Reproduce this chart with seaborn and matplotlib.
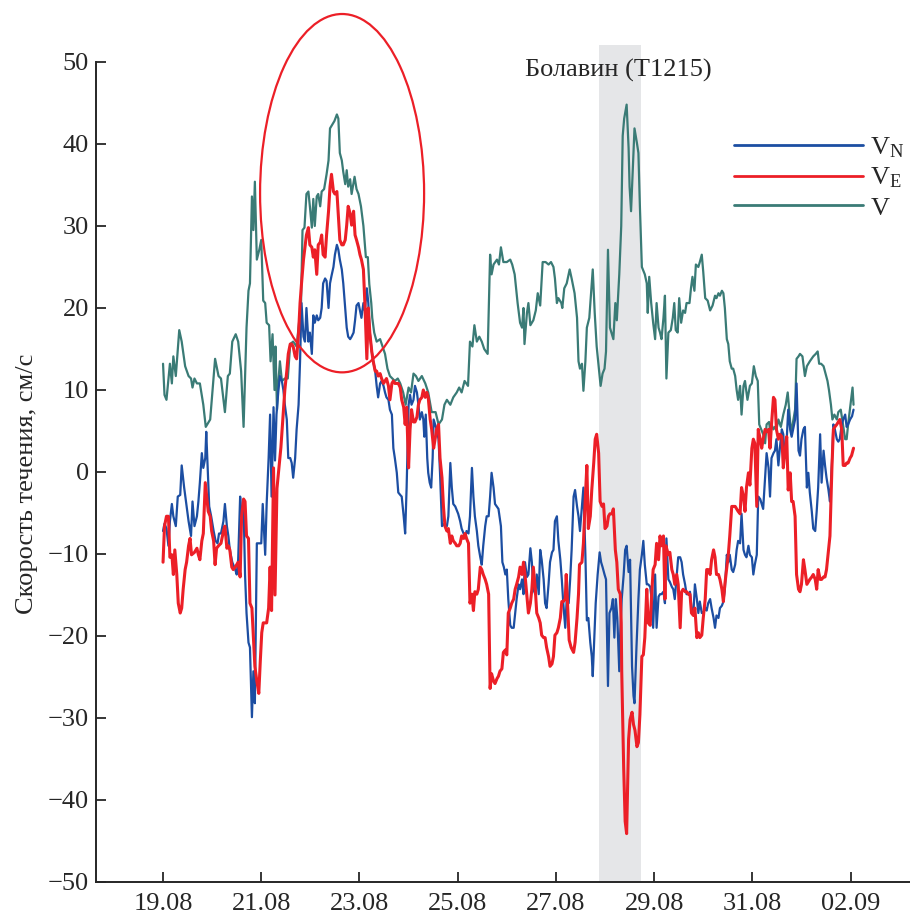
import numpy as np
import pandas as pd
import seaborn as sns
import matplotlib
matplotlib.use("Agg")
import matplotlib.pyplot as plt
from matplotlib.patches import Ellipse

# ---------------- data (days since 19.08, cm/s) ----------------
t_V = [0.00,0.03,0.07,0.14,0.18,0.21,0.26,0.33,0.38,0.45,0.52,0.57,0.60,0.64,0.69,0.75,0.82,0.87,0.96,1.06,
       1.13,1.18,1.26,1.32,1.36,1.41,1.48,1.53,1.59,1.64,1.70,1.74,1.77,1.81,1.84,1.87,1.91,1.96,2.00,2.04,
       2.08,2.11,2.16,2.19,2.23,2.27,2.29,2.32,2.35,2.38,2.42,2.48,2.54,2.59,2.65,2.72,2.77,2.81,2.84,2.88,
       2.92,2.96,2.99,3.03,3.06,3.09,3.13,3.16,3.20,3.23,3.28,3.33,3.37,3.40,3.43,3.49,3.54,3.57,3.60,3.64,
       3.67,3.71,3.74,3.77,3.81,3.84,3.90,3.94,3.98,4.03,4.08,4.13,4.17,4.20,4.24,4.26,4.30,4.35,4.42,4.47,
       4.52,4.57,4.62,4.67,4.72,4.78,4.83,4.89,4.94,5.00,5.05,5.10,5.15,5.20,5.27,5.34,5.40,5.47,5.55,5.61,
       5.68,5.73,5.78,5.85,5.91,5.98,6.03,6.08,6.14,6.21,6.25,6.30,6.34,6.39,6.44,6.49,6.54,6.61,6.66,6.69,
       6.73,6.80,6.84,6.88,6.93,7.00,7.07,7.11,7.16,7.22,7.27,7.31,7.34,7.36,7.41,7.44,7.48,7.54,7.59,7.63,
       7.68,7.73,7.79,7.85,7.90,7.95,7.98,8.02,8.05,8.11,8.13,8.17,8.22,8.28,8.32,8.38,8.43,8.46,8.49,8.53,
       8.56,8.60,8.63,8.68,8.75,8.79,8.83,8.88,8.91,8.95,8.99,9.02,9.06,9.10,9.17,9.21,9.24,9.29,9.33,9.36,
       9.39,9.44,9.48,9.50,9.53,9.56,9.60,9.65,9.68,9.71,9.75,9.81,9.85,9.87,9.90,9.94,9.98,10.02,10.05,10.09,
       10.12,10.15,10.19,10.22,10.25,10.29,10.34,10.38,10.41,10.44,10.48,10.51,10.55,10.59,10.63,10.66,10.72,10.75,10.78,10.82,
       10.85,10.90,10.93,10.97,11.00,11.04,11.09,11.14,11.19,11.24,11.27,11.31,11.34,11.38,11.41,11.44,11.48,11.51,11.54,11.58,
       11.61,11.65,11.68,11.71,11.75,11.78,11.82,11.85,11.90,11.95,11.99,12.03,12.07,12.11,12.14,12.18,12.22,12.26,12.29,12.34,
       12.37,12.39,12.43,12.46,12.49,12.53,12.58,12.63,12.68,12.72,12.75,12.79,12.82,12.87,12.90,12.94,12.97,13.02,13.07,13.11,
       13.17,13.24,13.29,13.33,13.36,13.40,13.45,13.49,13.53,13.56,13.60,13.63,13.67,13.72,13.75,13.80,13.83,13.89,13.92,13.95,
       14.01,14.04,14.06]
V = [13.2,9.4,8.8,13.2,10.8,14.1,11.7,17.3,15.9,12.9,11.7,11.4,10.3,11.4,10.8,10.8,8.2,5.5,6.4,13.8,
     11.7,11.4,7.3,11.7,12.0,15.9,16.8,15.9,12.3,5.5,17.6,22.1,23.0,33.6,29.5,35.4,25.9,27.1,28.3,20.9,
     20.6,18.2,17.9,13.5,16.8,10.0,15.3,7.6,11.1,13.5,11.1,11.4,11.4,15.6,15.9,15.3,18.2,20.6,29.5,29.8,
     33.9,34.2,32.4,29.8,33.3,30.0,33.6,33.9,32.4,34.2,34.5,36.3,38.0,41.9,42.2,42.8,43.6,43.1,38.9,38.0,
     36.6,35.1,36.8,34.8,35.7,33.9,36.0,34.5,33.9,32.4,30.0,26.2,26.2,22.9,20.6,18.8,17.0,15.9,16.2,15.3,
     14.4,12.6,11.7,11.4,11.1,11.4,10.8,9.7,8.2,10.3,9.7,12.0,11.7,11.1,11.7,10.8,9.7,7.3,7.3,5.8,
     6.4,8.2,8.8,8.2,9.1,9.7,10.3,9.7,11.1,10.5,15.9,15.3,17.9,15.9,16.5,15.9,15.0,14.4,26.5,24.1,
     25.3,25.9,25.3,27.4,25.6,25.6,25.9,25.3,24.1,20.6,18.2,17.6,20.0,15.6,19.4,20.6,17.9,18.5,19.7,21.8,
     20.3,25.6,25.6,25.3,25.6,25.0,23.6,20.6,21.2,20.6,20.0,22.4,23.0,24.7,23.6,21.8,18.8,13.5,12.6,13.2,
     9.9,13.5,17.6,18.8,24.7,19.4,15.3,12.3,10.5,12.0,12.6,14.7,27.1,17.6,16.2,20.6,18.5,24.1,30.0,41.0,
     43.1,44.8,39.5,34.8,31.8,36.0,41.9,40.1,38.9,32.4,25.0,24.1,23.0,19.4,23.8,20.6,18.2,16.2,20.6,17.6,
     17.0,16.2,18.8,21.5,11.4,17.0,17.3,18.8,20.6,17.3,17.0,21.2,18.2,19.7,19.4,20.6,20.6,22.4,23.8,22.1,
     25.3,25.0,25.6,26.5,24.4,21.2,20.9,19.7,20.3,21.5,21.2,21.8,21.5,22.1,21.8,20.0,16.2,15.6,13.5,12.6,
     12.6,11.7,10.0,8.8,10.5,7.0,10.5,11.1,8.8,10.5,10.8,12.9,11.7,11.1,5.8,5.2,4.6,3.5,5.8,6.1,
     4.6,5.8,5.2,5.5,5.2,6.4,5.5,7.0,8.2,9.7,7.6,4.6,5.8,7.6,13.8,14.1,14.4,14.1,11.7,12.9,
     13.5,14.1,14.4,14.7,13.2,13.2,12.9,12.0,11.1,10.0,8.2,6.4,7.0,6.4,7.3,7.6,6.4,4.0,4.0,5.8,
     8.8,10.3,8.2]

t_VN = [0.00,0.03,0.07,0.11,0.14,0.18,0.21,0.26,0.30,0.35,0.38,0.43,0.48,0.52,0.57,0.60,0.64,0.69,0.72,0.75,
        0.79,0.82,0.86,0.88,0.91,0.94,0.98,1.03,1.07,1.11,1.14,1.18,1.23,1.26,1.30,1.33,1.36,1.41,1.47,1.50,
        1.53,1.57,1.60,1.64,1.67,1.70,1.74,1.77,1.81,1.84,1.87,1.91,1.96,2.00,2.03,2.08,2.11,2.15,2.18,2.21,
        2.25,2.28,2.31,2.35,2.38,2.42,2.45,2.48,2.52,2.55,2.59,2.62,2.65,2.69,2.72,2.76,2.79,2.82,2.86,2.89,
        2.92,2.96,2.99,3.03,3.06,3.09,3.13,3.16,3.20,3.23,3.26,3.30,3.33,3.37,3.40,3.43,3.47,3.50,3.54,3.57,
        3.60,3.64,3.67,3.71,3.74,3.77,3.81,3.84,3.88,3.91,3.94,3.98,4.01,4.04,4.08,4.11,4.15,4.18,4.21,4.25,
        4.28,4.32,4.35,4.38,4.42,4.45,4.49,4.52,4.55,4.59,4.62,4.66,4.69,4.72,4.76,4.79,4.83,4.86,4.90,4.93,
        4.96,5.00,5.03,5.06,5.10,5.13,5.17,5.20,5.23,5.27,5.30,5.32,5.35,5.38,5.40,5.43,5.46,5.49,5.51,5.54,
        5.57,5.61,5.64,5.68,5.73,5.78,5.81,5.85,5.88,5.91,5.95,6.01,6.05,6.08,6.12,6.15,6.18,6.22,6.25,6.29,
        6.32,6.35,6.39,6.42,6.46,6.49,6.52,6.56,6.59,6.63,6.66,6.69,6.73,6.76,6.83,6.88,6.91,6.94,6.97,7.00,
        7.03,7.07,7.10,7.14,7.20,7.24,7.27,7.31,7.34,7.37,7.41,7.44,7.48,7.51,7.54,7.58,7.61,7.65,7.68,7.71,
        7.75,7.78,7.81,7.85,7.88,7.92,7.95,7.98,8.02,8.05,8.09,8.12,8.15,8.19,8.22,8.26,8.29,8.32,8.36,8.39,
        8.43,8.46,8.49,8.53,8.56,8.60,8.63,8.66,8.70,8.73,8.75,8.79,8.81,8.85,8.89,8.92,8.95,8.99,9.02,9.06,
        9.09,9.13,9.16,9.19,9.22,9.25,9.29,9.31,9.34,9.38,9.41,9.44,9.48,9.51,9.55,9.58,9.60,9.64,9.68,9.71,
        9.75,9.78,9.81,9.85,9.88,9.92,9.95,9.98,10.02,10.05,10.09,10.12,10.15,10.19,10.22,10.25,10.29,10.32,10.36,10.39,
        10.42,10.46,10.49,10.53,10.56,10.59,10.63,10.66,10.70,10.73,10.76,10.80,10.83,10.87,10.90,10.93,10.97,11.00,11.04,11.07,
        11.10,11.14,11.17,11.21,11.24,11.27,11.31,11.34,11.38,11.41,11.44,11.48,11.51,11.54,11.58,11.61,11.65,11.68,11.71,11.75,
        11.78,11.82,11.85,11.88,11.92,11.95,11.99,12.02,12.05,12.09,12.12,12.16,12.19,12.22,12.26,12.29,12.33,12.36,12.39,12.43,
        12.46,12.49,12.53,12.56,12.60,12.63,12.66,12.70,12.73,12.77,12.80,12.83,12.87,12.90,12.94,12.97,13.00,13.04,13.07,13.11,
        13.14,13.17,13.21,13.24,13.28,13.31,13.34,13.38,13.41,13.45,13.48,13.51,13.55,13.58,13.62,13.65,13.68,13.72,13.75,13.78,
        13.82,13.85,13.89,13.92,13.95,13.99,14.03,14.06]
VN = [-7.2,-6.3,-6.9,-9.0,-6.0,-3.9,-5.4,-6.6,-3.0,-2.8,0.8,-1.9,-4.2,-6.0,-7.8,-3.6,-6.6,-5.4,-3.6,-1.3,
      2.3,0.5,1.7,4.9,0.5,-4.2,-5.4,-7.2,-8.4,-8.7,-7.5,-7.5,-6.0,-3.9,-6.6,-7.8,-9.5,-11.0,-11.9,-12.5,
      -10.7,-3.0,-5.4,-4.2,-12.5,-17.2,-20.8,-21.4,-29.9,-24.3,-28.2,-8.7,-8.7,-8.7,-3.9,-10.1,-3.9,1.7,7.0,-3.0,
      7.9,1.4,7.0,10.0,11.7,11.1,10.0,8.2,6.4,1.7,1.7,1.1,-0.7,1.7,5.2,8.2,13.5,20.6,16.5,15.9,
      20.0,15.9,17.0,14.4,19.1,18.2,19.1,18.5,18.8,20.0,23.0,23.6,23.3,20.0,23.0,23.9,25.0,26.5,27.7,27.1,
      25.9,24.7,23.0,20.0,17.6,16.5,16.2,16.5,17.0,18.5,20.3,20.6,19.7,18.8,20.6,19.7,22.4,20.6,17.0,14.7,
      13.5,12.3,10.5,9.1,10.8,11.1,10.5,9.7,9.1,8.8,7.6,7.0,2.9,1.7,-0.1,-2.5,-2.8,-3.0,-5.4,-7.5,
      -1.9,8.2,9.4,8.2,8.8,10.5,9.7,8.2,6.4,7.3,6.4,4.3,7.0,1.7,-0.1,-1.3,-1.9,1.7,6.4,5.8,
      5.2,4.0,-0.1,-6.6,-6.3,-6.6,-5.4,1.1,-1.9,-3.9,-4.2,-5.1,-6.0,-6.9,-7.5,-8.1,-7.2,-7.5,-5.4,0.5,
      -3.0,-5.4,-7.2,-9.0,-10.4,-11.3,-9.0,-6.6,-5.4,-5.4,-3.0,-0.1,-1.9,-3.9,-4.5,-6.6,-11.0,-11.6,-12.5,-11.9,
      -15.5,-18.7,-19.0,-19.0,-15.5,-13.7,-14.3,-13.1,-14.9,-11.0,-12.8,-12.5,-9.3,-11.0,-14.3,-14.9,-12.5,-14.9,-9.5,-10.7,
      -13.1,-16.0,-16.6,-13.7,-11.0,-9.8,-9.5,-6.0,-5.4,-8.4,-10.7,-13.1,-16.0,-19.0,-15.5,-16.0,-13.1,-9.5,-3.0,-2.2,
      -4.2,-5.4,-7.2,-4.2,-1.9,-10.1,-18.1,-17.8,-20.8,-22.5,-24.9,-19.0,-16.0,-12.5,-9.8,-11.0,-11.6,-12.5,-13.1,-26.1,
      -17.2,-16.6,-15.5,-20.2,-15.5,-17.8,-24.3,-19.6,-15.5,-12.5,-9.5,-9.0,-12.2,-10.7,-23.7,-27.3,-28.2,-21.4,-15.5,-11.9,
      -10.1,-8.4,-11.3,-13.7,-13.7,-14.0,-15.5,-19.0,-12.5,-19.0,-15.2,-14.9,-14.9,-14.6,-16.0,-8.1,-13.1,-13.4,-14.0,-14.3,
      -15.5,-12.5,-10.4,-10.4,-11.0,-12.5,-13.7,-14.9,-14.9,-14.6,-16.6,-17.2,-13.7,-15.5,-17.2,-15.8,-17.2,-17.2,-16.6,-16.9,
      -16.0,-15.5,-16.6,-17.8,-19.0,-17.5,-17.8,-16.6,-16.3,-15.8,-14.3,-10.1,-11.0,-10.1,-11.9,-12.2,-11.3,-9.5,-8.4,-8.7,
      -5.1,-9.5,-10.1,-10.4,-9.0,-10.1,-10.4,-12.5,-11.3,-10.1,-3.0,-3.3,-3.9,-4.5,-0.7,2.3,0.5,-3.0,1.7,2.3,
      2.6,4.0,0.8,2.9,5.2,4.6,1.7,4.0,7.6,5.2,4.3,5.2,6.4,10.8,2.6,2.0,4.0,5.2,5.5,-1.9,
      -0.1,-2.5,-4.8,-6.9,-7.2,-4.8,-1.9,4.6,-1.3,2.6,0.8,-0.7,-2.2,-3.6,1.1,5.8,5.2,4.0,3.7,4.0,
      5.8,6.4,7.0,5.5,5.8,6.4,6.8,7.6]

t_VE = [0.00,0.03,0.07,0.11,0.14,0.18,0.21,0.24,0.28,0.31,0.35,0.38,0.41,0.45,0.48,0.52,0.55,0.58,0.64,0.69,
        0.72,0.75,0.79,0.82,0.86,0.89,0.92,0.96,0.99,1.03,1.06,1.09,1.13,1.18,1.23,1.26,1.30,1.33,1.36,1.40,
        1.43,1.47,1.50,1.53,1.57,1.60,1.64,1.67,1.70,1.74,1.77,1.81,1.84,1.87,1.91,1.95,1.98,2.01,2.04,2.08,
        2.11,2.15,2.18,2.21,2.25,2.28,2.32,2.36,2.40,2.44,2.48,2.52,2.55,2.59,2.62,2.65,2.69,2.72,2.76,2.79,
        2.82,2.86,2.89,2.92,2.96,2.99,3.03,3.06,3.09,3.13,3.16,3.20,3.23,3.26,3.30,3.33,3.37,3.40,3.43,3.47,
        3.50,3.54,3.57,3.60,3.64,3.67,3.71,3.74,3.77,3.81,3.84,3.88,3.91,3.94,3.98,4.01,4.04,4.08,4.11,4.15,
        4.18,4.21,4.25,4.28,4.32,4.35,4.38,4.42,4.45,4.49,4.52,4.55,4.59,4.62,4.66,4.69,4.72,4.79,4.83,4.86,
        4.90,4.93,4.96,5.00,5.03,5.06,5.10,5.13,5.17,5.20,5.23,5.27,5.30,5.34,5.37,5.40,5.44,5.47,5.51,5.54,
        5.57,5.61,5.64,5.68,5.71,5.74,5.78,5.81,5.85,5.88,5.91,5.95,5.98,6.02,6.05,6.08,6.12,6.15,6.18,6.22,
        6.25,6.29,6.32,6.35,6.39,6.42,6.46,6.49,6.52,6.56,6.59,6.63,6.66,6.69,6.73,6.76,6.80,6.83,6.86,6.90,
        6.93,6.97,7.00,7.03,7.07,7.10,7.14,7.17,7.20,7.24,7.27,7.31,7.34,7.37,7.41,7.44,7.48,7.51,7.54,7.58,
        7.61,7.65,7.68,7.71,7.75,7.78,7.81,7.85,7.88,7.92,7.95,7.98,8.02,8.05,8.09,8.12,8.15,8.19,8.21,8.24,
        8.27,8.31,8.36,8.39,8.43,8.46,8.48,8.53,8.56,8.60,8.63,8.66,8.70,8.73,8.77,8.80,8.83,8.87,8.90,8.94,
        8.97,9.00,9.04,9.07,9.10,9.14,9.17,9.21,9.24,9.27,9.31,9.33,9.34,9.38,9.41,9.44,9.48,9.51,9.55,9.58,
        9.61,9.65,9.68,9.71,9.75,9.78,9.81,9.85,9.88,9.92,9.95,9.98,10.02,10.05,10.09,10.12,10.15,10.19,10.22,10.24,
        10.29,10.32,10.36,10.39,10.42,10.46,10.49,10.53,10.56,10.59,10.63,10.66,10.70,10.73,10.76,10.80,10.83,10.87,10.90,10.93,
        10.97,11.00,11.04,11.07,11.10,11.14,11.17,11.21,11.24,11.27,11.31,11.34,11.38,11.41,11.44,11.48,11.51,11.54,11.58,11.65,
        11.71,11.75,11.78,11.82,11.85,11.88,11.92,11.95,11.99,12.02,12.05,12.09,12.12,12.16,12.19,12.22,12.26,12.29,12.33,12.36,
        12.39,12.43,12.46,12.49,12.53,12.56,12.60,12.63,12.66,12.70,12.73,12.77,12.80,12.83,12.87,12.90,12.94,12.97,13.00,13.04,
        13.07,13.11,13.14,13.17,13.21,13.24,13.28,13.31,13.34,13.38,13.41,13.45,13.48,13.51,13.55,13.58,13.62,13.65,13.68,13.72,
        13.75,13.78,13.82,13.85,13.89,13.92,13.95,13.99,14.02,14.06]
VE = [-11.0,-6.6,-5.4,-5.4,-10.4,-10.1,-12.5,-9.5,-12.5,-16.0,-17.2,-16.6,-14.3,-11.9,-11.0,-9.0,-8.1,-10.1,-9.8,-9.3,
      -10.1,-10.7,-8.4,-7.5,-1.3,-3.0,-4.8,-5.4,-7.2,-8.4,-11.3,-9.3,-9.0,-8.7,-7.2,-6.6,-9.3,-9.0,-9.5,-11.6,
      -11.9,-11.6,-11.3,-11.0,-12.8,-5.4,-3.3,-3.6,-7.8,-8.1,-16.0,-16.6,-20.2,-23.7,-25.5,-27.0,-23.1,-19.6,-18.4,-18.4,
      -18.4,-16.6,-11.6,-16.9,0.5,-15.0,-2.0,0.5,3.0,6.5,10.0,12.3,14.4,15.6,15.6,15.3,14.1,13.8,17.0,20.6,
      23.0,25.9,27.4,28.9,29.8,27.7,27.4,26.2,27.1,24.1,27.7,28.0,28.9,26.5,26.2,28.9,31.8,34.8,36.3,34.2,
      33.9,34.2,31.2,28.3,27.7,27.7,28.3,30.1,32.4,31.5,30.1,31.8,28.9,28.3,27.4,26.5,25.9,24.7,20.6,13.8,
      20.0,17.0,14.7,13.5,12.3,12.3,11.7,12.0,11.4,10.8,11.1,11.4,10.5,8.8,10.8,11.1,10.8,10.8,10.3,8.8,
      7.9,5.8,7.9,0.5,5.2,7.6,6.1,6.1,6.7,8.2,8.8,9.1,10.0,9.1,9.7,9.1,6.4,5.2,2.9,4.0,
      5.2,5.8,1.7,-0.7,-4.2,-6.6,-7.2,-6.9,-8.7,-7.8,-8.4,-8.7,-9.0,-9.0,-8.7,-7.8,-8.1,-7.5,-8.1,-8.7,
      -16.0,-14.9,-16.9,-14.6,-14.9,-14.3,-11.6,-11.9,-12.5,-13.1,-13.7,-14.9,-26.4,-24.6,-25.5,-25.8,-25.2,-24.9,-24.3,-24.0,
      -22.0,-21.7,-22.3,-17.2,-16.6,-16.0,-15.5,-14.3,-13.7,-12.8,-11.6,-12.5,-11.0,-12.5,-15.2,-17.2,-16.0,-14.3,-11.6,-14.3,
      -17.2,-17.8,-18.4,-19.9,-20.2,-20.2,-21.4,-22.5,-23.7,-23.4,-22.5,-19.9,-19.6,-19.0,-17.8,-15.8,-15.8,-15.5,-12.5,-16.6,
      -20.5,-21.4,-22.0,-20.8,-17.8,-14.9,-11.3,-11.0,-8.7,-3.0,0.8,-6.9,-5.4,-2.2,1.1,4.0,4.6,2.3,-3.6,-4.2,
      -3.9,-6.9,-6.6,-5.4,-5.1,-5.1,-4.5,-9.5,-11.0,-14.3,-14.9,-18.4,-24.3,-36.1,-42.6,-44.1,-32.6,-30.2,-29.3,-30.8,
      -31.5,-33.5,-33.0,-29.6,-22.5,-22.3,-20.2,-14.3,-18.4,-18.7,-14.9,-11.9,-11.3,-8.7,-10.7,-7.8,-9.0,-7.8,-15.5,-9.0,
      -10.1,-9.8,-11.9,-12.5,-13.7,-12.5,-13.7,-19.0,-14.6,-14.3,-14.6,-14.6,-14.9,-14.9,-17.2,-17.5,-16.6,-20.2,-19.6,-20.2,
      -19.9,-17.8,-15.5,-11.9,-11.9,-12.5,-10.7,-9.5,-10.4,-12.5,-12.5,-13.1,-14.3,-15.8,-13.7,-11.6,-10.1,-7.8,-4.2,-4.2,
      -4.8,-5.1,-1.9,-3.0,-4.8,-1.9,-0.1,-1.6,2.9,4.0,3.5,-4.2,5.2,4.0,2.9,4.0,5.2,4.9,5.2,2.9,
      5.8,9.1,8.8,5.2,4.0,4.6,4.3,0.5,2.3,4.3,-2.2,-0.1,-3.6,-3.6,-5.4,-12.5,-14.3,-14.6,-13.7,-10.7,
      -11.9,-13.7,-13.4,-13.1,-12.8,-12.5,-13.1,-14.3,-11.9,-13.1,-13.1,-12.8,-12.8,-11.9,-9.5,-7.8,0.5,5.2,5.5,5.8,
      6.1,6.4,5.2,0.8,0.8,1.1,1.1,1.7,2.0,2.9]

x_ticks = [0, 2, 4, 6, 8, 10, 12, 14]
x_tick_labels = ["19.08", "21.08", "23.08", "25.08", "27.08", "29.08", "31.08", "02.09"]
y_ticks = [-50, -40, -30, -20, -10, 0, 10, 20, 30, 40, 50]
typhoon_span = (8.88, 9.74)
typhoon_label = "Болавин (T1215)"
series_labels = [r"$\mathrm{V}_{\mathrm{N}}$", r"$\mathrm{V}_{\mathrm{E}}$", r"$\mathrm{V}$"]
y_label = "Скорость течения, см/с"

# ---------------- style ----------------
sns.set_style("ticks")
plt.rcParams["font.family"] = ["Liberation Serif", "DejaVu Serif"]
plt.rcParams["mathtext.fontset"] = "custom"
plt.rcParams["mathtext.rm"] = "Liberation Serif"
plt.rcParams["mathtext.it"] = "Liberation Serif:italic"

BLUE = "#1c4ea2"
RED = "#ec1f27"
TEAL = "#3a7b76"

fig = plt.figure(figsize=(9.1, 9.15), dpi=100)
ax = fig.add_axes([96/910, 33/915, 1 - 96/910, 837/915])

ax.axvspan(*typhoon_span, color="#e5e6e8", lw=0, zorder=0)

df_V = pd.DataFrame({"t": t_V, "v": V})
df_N = pd.DataFrame({"t": t_VN, "v": VN})
df_E = pd.DataFrame({"t": t_VE, "v": VE})

sns.lineplot(data=df_V, x="t", y="v", ax=ax, color=TEAL, lw=1.6, estimator=None, sort=False)
sns.lineplot(data=df_N, x="t", y="v", ax=ax, color=BLUE, lw=1.6, estimator=None, sort=False)
sns.lineplot(data=df_E, x="t", y="v", ax=ax, color=RED, lw=2.2, estimator=None, sort=False)

lines = ax.get_lines()
handles = [lines[1], lines[2], lines[0]]
leg = ax.legend(handles, series_labels, loc="upper left", bbox_to_anchor=(0.784, 0.892),
                frameon=False, fontsize=19, handlelength=4.9, handletextpad=0.25,
                labelspacing=0.22, borderpad=0, borderaxespad=0)
for h in leg.legend_handles:
    h.set_linewidth(2.0)

ell = Ellipse((3.646, 34.0), width=3.34, height=43.7, fill=False, edgecolor=RED,
              lw=1.6, clip_on=False, zorder=5)
ax.add_patch(ell)

ax.text(9.27, 49.0, typhoon_label, ha="center", va="center", fontsize=19)

ax.set_xlim(-1.365, 15.21)
ax.set_ylim(-50, 52.07)
ax.set_xticks(x_ticks)
ax.set_xticklabels(x_tick_labels)
ax.set_yticks(y_ticks)
ax.set_xlabel("")
ax.set_ylabel(y_label, fontsize=19)
ax.yaxis.set_label_coords(-0.071, 0.476)

for s in ["top", "right"]:
    ax.spines[s].set_visible(False)
ax.spines["left"].set_bounds(-50, 50)
ax.spines["left"].set_linewidth(1.4)
ax.spines["bottom"].set_linewidth(1.4)
ax.tick_params(axis="both", direction="in", length=7, width=1.1, labelsize=19, color="black")
ax.tick_params(axis="x", pad=8)
ax.tick_params(axis="y", pad=5)

fig.savefig("out.png", dpi=100)
